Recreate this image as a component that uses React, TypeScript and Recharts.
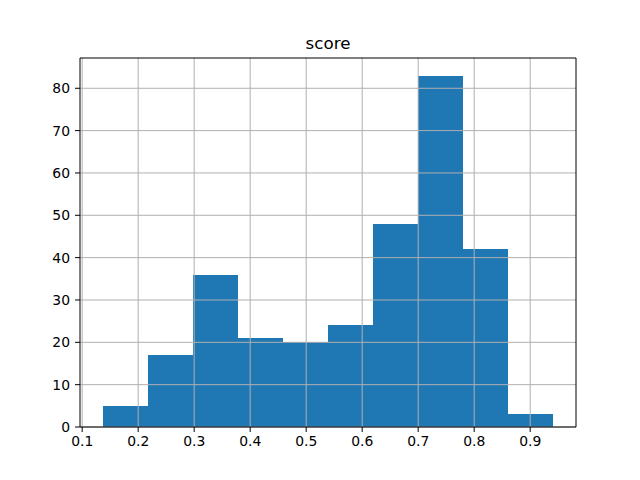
import { ComposedChart, Bar, XAxis, YAxis, ReferenceLine } from 'recharts';

// histogram of "score": 10 bins, value at bin centre
const binCenters = [0.1767, 0.2572, 0.3377, 0.4183, 0.4988, 0.5793, 0.6598, 0.7403, 0.8209, 0.9014];
const counts = [5, 17, 36, 21, 20, 24, 48, 83, 42, 3];
const binWidth = 0.0805;
const xTicks = [0.1, 0.2, 0.3, 0.4, 0.5, 0.6, 0.7, 0.8, 0.9];
const yTicks = [0, 10, 20, 30, 40, 50, 60, 70, 80];
const xDomain: [number, number] = [0.0961, 0.9818];
const yDomain: [number, number] = [0, 87.15];

const font = 'DejaVu Sans, sans-serif';
const tickStyle = { fill: '#000', fontSize: 13.9, fontFamily: font };
const gridColor = '#b0b0b0';

const plotW = 496;

export default function App() {
  const data = binCenters.map((c, i) => ({ x: c, count: counts[i] }));
  const barPx = (binWidth / (xDomain[1] - xDomain[0])) * plotW;

  // full-width histogram bar, centred where recharts put it
  const HistBar = (p: any) => (
    <rect x={p.x + p.width / 2 - barPx / 2} y={p.y} width={barPx} height={p.height} fill="#1f77b4" shapeRendering="crispEdges" />
  );

  return (
    <div style={{ position: 'absolute', left: 0, top: 0, width: 640, height: 480, background: '#fff' }}>
      <svg width={640} height={60} style={{ position: 'absolute', left: 0, top: 0 }}>
        <text x={328} y={49.3} textAnchor="middle" fontSize={16.7} fontFamily={font} fill="#000">score</text>
      </svg>
      <ComposedChart width={640} height={480} data={data} barCategoryGap={0} barGap={0}
        margin={{ top: 58, right: 64, bottom: 0, left: 0 }}>
        <XAxis
          dataKey="x"
          type="number"
          domain={xDomain}
          allowDataOverflow
          ticks={xTicks}
          interval={0}
          height={53}
          tick={tickStyle}
          tickSize={5}
          tickMargin={4}
          axisLine={{ stroke: '#000', strokeWidth: 1 }}
          tickLine={{ stroke: '#000', strokeWidth: 1 }}
        />
        <YAxis
          domain={yDomain}
          allowDataOverflow
          ticks={yTicks}
          interval={0}
          width={80}
          tick={tickStyle}
          tickSize={5}
          tickMargin={5}
          axisLine={{ stroke: '#000', strokeWidth: 1 }}
          tickLine={{ stroke: '#000', strokeWidth: 1 }}
        />
        <Bar dataKey="count" fill="#1f77b4" shape={HistBar} isAnimationActive={false} />
        {xTicks.map(t => (
          <ReferenceLine key={'x' + t} x={t} stroke={gridColor} strokeWidth={1} />
        ))}
        {yTicks.map(t => (
          <ReferenceLine key={'y' + t} y={t} stroke={gridColor} strokeWidth={1} />
        ))}
        <ReferenceLine x={xDomain[1]} stroke="#000" strokeWidth={1} />
        <ReferenceLine y={yDomain[1]} stroke="#000" strokeWidth={1} />
      </ComposedChart>
    </div>
  );
}
